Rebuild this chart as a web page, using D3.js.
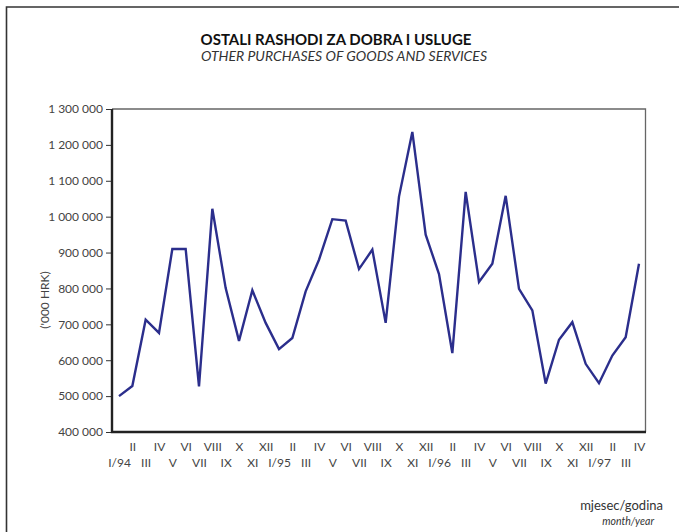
<!DOCTYPE html>
<html><head><meta charset="utf-8">
<script src="https://cdn.jsdelivr.net/npm/d3@7"></script>
<style>body{margin:0;background:#fff}svg{display:block}</style>
</head><body>
<svg id="c" width="679" height="532"></svg>
<script>
const months = ["I/94","II","III","IV","V","VI","VII","VIII","IX","X","XI","XII",
  "I/95","II","III","IV","V","VI","VII","VIII","IX","X","XI","XII",
  "I/96","II","III","IV","V","VI","VII","VIII","IX","X","XI","XII",
  "I/97","II","III","IV"];
const values = [500000,528000,713000,676000,910000,910000,527000,1022000,801000,654000,795000,704000,
  631000,662000,792000,880000,993000,989000,854000,908000,704000,1056000,1236000,950000,
  840000,620000,1069000,818000,869000,1058000,799000,739000,535000,657000,706000,590000,
  536000,613000,664000,869000];
const yTicks = [400000,500000,600000,700000,800000,900000,1000000,1100000,1200000,1300000];
const title = "OSTALI RASHODI ZA DOBRA I USLUGE";
const subtitle = "OTHER PURCHASES OF GOODS AND SERVICES";
const yLabel = "('000 HRK)";
const xLabel1 = "mjesec/godina", xLabel2 = "month/year";

const svg = d3.select("#c");
const font = "Lato, 'Open Sans', sans-serif";
const L = 112, R = 645.5, T = 109, B = 432;
const x = d3.scalePoint().domain(d3.range(months.length)).range([119, 639]);
const y = d3.scaleLinear().domain([400000, 1300000]).range([B, T]);

// outer border (top and left)
svg.append("path").attr("d", `M6.5,532 V7 H679`).attr("fill","none").attr("stroke","#333").attr("stroke-width",1.6);

svg.append("text").attr("x",336).attr("y",45).attr("text-anchor","middle")
  .attr("font-family",font).attr("font-weight","bold").attr("font-size",15).attr("fill","#111").text(title);
svg.append("text").attr("x",344).attr("y",61).attr("text-anchor","middle")
  .attr("font-family",font).attr("font-style","italic").attr("font-size",14).attr("fill","#333").text(subtitle);

// frame top/right
svg.append("path").attr("d",`M${L},${T} H${R} V${B}`).attr("fill","none").attr("stroke","#666").attr("stroke-width",1.3);

// y axis
const yAxis = d3.axisLeft(y).tickValues(yTicks).tickSize(6).tickPadding(3)
  .tickFormat(d => d3.format(",")(d).replace(/,/g," "));
const gy = svg.append("g").attr("transform",`translate(${L},0)`).call(yAxis);
gy.select(".domain").remove();
gy.selectAll(".tick line").attr("stroke","#333").attr("stroke-width",1);
gy.selectAll(".tick text").attr("font-family",font).attr("font-size",12).attr("fill","#444");

// x axis with alternating two-row labels
const xAxis = d3.axisBottom(x).tickSize(0).tickPadding(0).tickFormat(i => months[i]);
const gx = svg.append("g").attr("transform",`translate(0,${B})`).call(xAxis);
gx.select(".domain").remove();
gx.selectAll(".tick text").attr("font-family",font).attr("font-size",12).attr("fill","#444")
  .attr("dy",null).attr("y",(d,i)=> i%2===1 ? 18.5 : 35);

// left & bottom axis lines
svg.append("path").attr("d",`M${L},${T} V${B} H${R+0.5}`).attr("fill","none").attr("stroke","#222").attr("stroke-width",2.4);

// line
const line = d3.line().x((d,i)=>x(i)).y(d=>y(d));
svg.append("path").datum(values).attr("d",line).attr("fill","none")
  .attr("stroke","#2b2e8c").attr("stroke-width",2.4).attr("stroke-linejoin","miter");

// y label
svg.append("text").attr("transform","translate(49,300) rotate(-90)").attr("text-anchor","middle")
  .attr("font-family",font).attr("font-size",12).attr("fill","#444").text(yLabel);

svg.append("text").attr("x",663).attr("y",510).attr("text-anchor","end")
  .attr("font-family",font).attr("font-size",13).attr("fill","#333").text(xLabel1);
svg.append("text").attr("x",654).attr("y",525).attr("text-anchor","end")
  .attr("font-family",font).attr("font-style","italic").attr("font-size",10.5).attr("fill","#333").text(xLabel2);
</script>
</body></html>
